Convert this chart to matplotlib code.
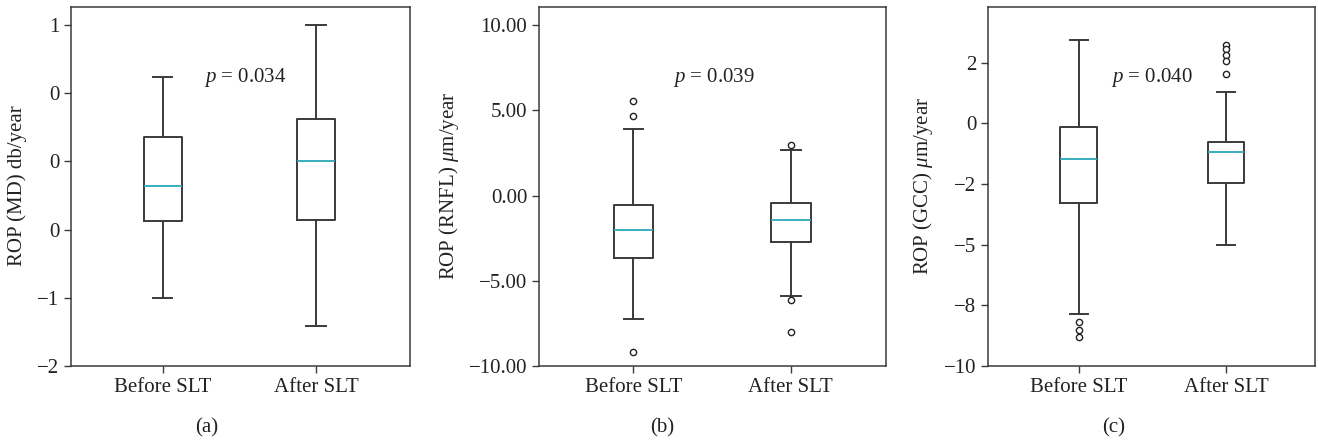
import matplotlib.pyplot as plt

plt.rcParams['font.family'] = 'Liberation Serif'
plt.rcParams['mathtext.fontset'] = 'custom'
plt.rcParams['mathtext.rm'] = 'Liberation Serif'
plt.rcParams['mathtext.it'] = 'Liberation Serif:italic'

groups = ["Before SLT", "After SLT"]

# (a) ROP of MD, db/year
md_whislo = [-1.00, -1.21]
md_q1 = [-0.44, -0.43]
md_med = [-0.18, 0.00]
md_q3 = [0.18, 0.31]
md_whishi = [0.62, 1.00]
md_fliers = [[], []]

# (b) ROP of RNFL, um/year
rnfl_whislo = [-7.27, -5.89]
rnfl_q1 = [-3.66, -2.74]
rnfl_med = [-2.04, -1.45]
rnfl_q3 = [-0.53, -0.43]
rnfl_whishi = [3.89, 2.70]
rnfl_fliers = [[5.57, 4.69, -9.17], [2.99, -6.10, -8.02]]

# (c) ROP of GCC, um/year
gcc_whislo = [-7.84, -5.01]
gcc_q1 = [-3.30, -2.46]
gcc_med = [-1.47, -1.17]
gcc_q3 = [-0.17, -0.76]
gcc_whishi = [3.43, 1.28]
gcc_fliers = [[-8.20, -8.52, -8.81], [3.22, 3.08, 2.82, 2.58, 2.03]]

md_ticks = [1.0, 0.5, 0.0, -0.5, -1.0, -1.5]
md_ticklabels = ["1", "0", "0", "0", "\u22121", "\u22122"]
rnfl_ticks = [10, 5, 0, -5, -10]
rnfl_ticklabels = ["10.00", "5.00", "0.00", "\u22125.00", "\u221210.00"]
gcc_ticks = [2.5, 0, -2.5, -5, -7.5, -10]
gcc_ticklabels = ["2", "0", "\u22122", "\u22125", "\u22128", "\u221210"]

p_values = ["0.034", "0.039", "0.040"]
ylabels = ["ROP (MD) db/year", r"ROP (RNFL) $\mu$m/year", r"ROP (GCC) $\mu$m/year"]
captions = ["(a)", "(b)", "(c)"]


def make_stats(whislo, q1, med, q3, whishi, fliers):
    stats = []
    for i in range(len(groups)):
        stats.append({"label": groups[i], "whislo": whislo[i], "q1": q1[i],
                      "med": med[i], "q3": q3[i], "whishi": whishi[i],
                      "fliers": fliers[i]})
    return stats


panels = [
    (make_stats(md_whislo, md_q1, md_med, md_q3, md_whishi, md_fliers),
     md_ticks, md_ticklabels, (-1.5, 1.13), (0.40, 2.614)),
    (make_stats(rnfl_whislo, rnfl_q1, rnfl_med, rnfl_q3, rnfl_whishi, rnfl_fliers),
     rnfl_ticks, rnfl_ticklabels, (-10, 11.06), (0.40, 2.605)),
    (make_stats(gcc_whislo, gcc_q1, gcc_med, gcc_q3, gcc_whishi, gcc_fliers),
     gcc_ticks, gcc_ticklabels, (-10, 4.79), (0.383, 2.605)),
]

fig = plt.figure(figsize=(13.18, 4.42), dpi=100)
rects = [[0.0539, 0.172, 0.2572, 0.812],
         [0.409, 0.172, 0.2633, 0.812],
         [0.7496, 0.172, 0.2481, 0.812]]
ylabel_x = [17, 449, 923]
caption_x = [207, 662, 1114]
p_x = [0.392, 0.386, 0.376]

edge = "#3a3a3a"
fs = 15
for k, (stats, ticks, ticklabels, ylim, xlim) in enumerate(panels):
    ax = fig.add_axes(rects[k])
    ax.bxp(stats, widths=0.25, showfliers=True,
           boxprops=dict(color=edge, linewidth=1.4),
           whiskerprops=dict(color=edge, linewidth=1.4),
           capprops=dict(color=edge, linewidth=1.4),
           medianprops=dict(color="#2aa8b8", linewidth=1.3),
           flierprops=dict(marker="o", markersize=4.5, markerfacecolor="white",
                           markeredgecolor="#222222", markeredgewidth=1.0))
    ax.set_ylim(ylim)
    ax.set_xlim(xlim)
    ax.set_yticks(ticks)
    ax.set_yticklabels(ticklabels)
    ax.tick_params(labelsize=fs, color=edge, length=5, width=1, labelcolor="#222222")
    for s in ax.spines.values():
        s.set_color(edge)
        s.set_linewidth(1.1)
    ax.text(p_x[k], 0.805, "$p$ = " + p_values[k], transform=ax.transAxes,
            ha="left", va="center", fontsize=fs, color="#222222")
    fig.text(ylabel_x[k] / 1318, 1 - 186 / 442, ylabels[k], rotation=90,
             ha="center", va="center", fontsize=fs, color="#222222")
    fig.text(caption_x[k] / 1318, 1 - 428 / 442, captions[k],
             ha="center", va="center", fontsize=fs, color="#222222")

fig.savefig("out.png", dpi=100)
